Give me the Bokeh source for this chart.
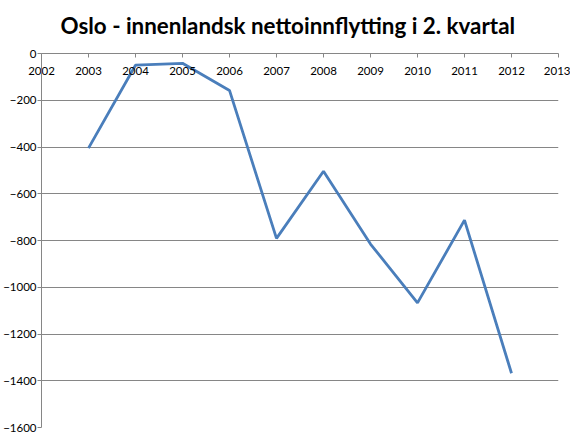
from bokeh.plotting import figure
from bokeh.models import Range1d, SingleIntervalTicker, Title
from bokeh.embed import file_html
from bokeh.resources import INLINE

years = [2003, 2004, 2005, 2006, 2007, 2008, 2009, 2010, 2011, 2012]
values = [-405, -50, -42, -158, -791, -504, -815, -1067, -713, -1368]
title_text = "Oslo - innenlandsk nettoinnflytting i 2. kvartal"

GRAY = "#868686"
FONT = "Lato"

p = figure(width=570, height=440, output_backend="svg", toolbar_location=None,
           x_range=Range1d(2002, 2013), y_range=Range1d(-1600, 0),
           x_axis_location="above",
           min_border_left=40, min_border_right=12, min_border_top=53,
           min_border_bottom=13, outline_line_color=None, background_fill_color="white",
           border_fill_color="white")

t = Title(text=title_text, align="left", offset=19, standoff=10,
          text_font=FONT, text_font_size="22.4px", text_font_style="bold",
          text_color="black")
p.add_layout(t, "above")

p.line(years, values, line_color="#4A7EBB", line_width=2.8)

# x axis at y = 0 (top of frame), ticks pointing down, labels below the line
xa = p.xaxis[0]
xa.ticker = SingleIntervalTicker(interval=1)
xa.minor_tick_line_color = None
xa.major_tick_out = 0
xa.major_tick_in = 4
xa.axis_line_color = GRAY
xa.major_tick_line_color = GRAY
xa.major_label_text_font = FONT
xa.major_label_text_font_size = "11.5px"
xa.major_label_text_color = "black"
xa.major_label_standoff = -25
xa.axis_label = " "
xa.axis_label_text_font_size = "10px"
xa.axis_label_standoff = 6

ya = p.yaxis[0]
ya.ticker = SingleIntervalTicker(interval=200)
ya.minor_tick_line_color = None
ya.major_tick_out = 4
ya.major_tick_in = 0
ya.axis_line_color = GRAY
ya.major_tick_line_color = GRAY
ya.major_label_text_font = FONT
ya.major_label_text_font_size = "11.5px"
ya.major_label_text_color = "black"
ya.major_label_standoff = 1

p.xgrid.grid_line_color = None
p.ygrid.grid_line_color = GRAY
p.ygrid.grid_line_width = 1
p.ygrid.ticker = SingleIntervalTicker(interval=200)

open("out.html", "w").write(file_html(p, INLINE))
